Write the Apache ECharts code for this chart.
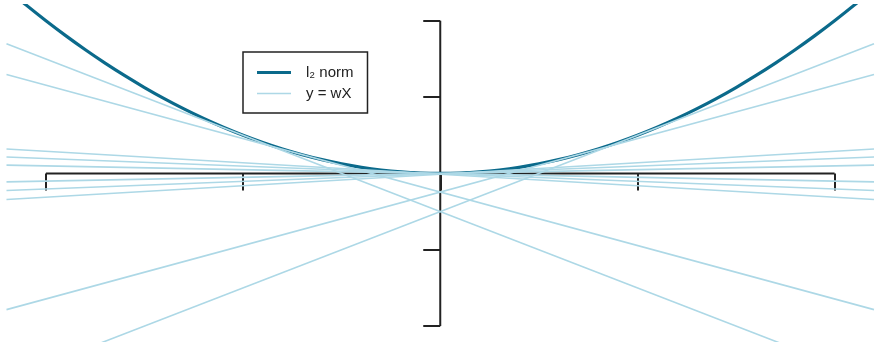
<!DOCTYPE html>
<html>
<head>
<meta charset="utf-8">
<script src="https://cdn.jsdelivr.net/npm/echarts@6/dist/echarts.min.js"></script>
<style>
  html, body { margin: 0; padding: 0; background: #ffffff; }
  #chart { width: 876px; height: 347px; }
</style>
</head>
<body>
<div id="chart"></div>
<script>
// ---- data ----
const xTicks = [-2, -1, 0, 1, 2];
const yTicks = [-2, -1, 0, 1, 2];
const xRange = [-2.2, 2.2];
const yRange = [-2.2, 2.2];

// l2 norm curve samples
const curveX = [-2.2, -2.1, -2.0, -1.9, -1.8, -1.7, -1.6, -1.5, -1.4, -1.3, -1.2, -1.1, -1.0,
                -0.9, -0.8, -0.7, -0.6, -0.5, -0.4, -0.3, -0.2, -0.1, 0,
                0.1, 0.2, 0.3, 0.4, 0.5, 0.6, 0.7, 0.8, 0.9, 1.0,
                1.1, 1.2, 1.3, 1.4, 1.5, 1.6, 1.7, 1.8, 1.9, 2.0, 2.1, 2.2];
const curveY = [2.42, 2.205, 2.0, 1.805, 1.62, 1.445, 1.28, 1.125, 0.98, 0.845, 0.72, 0.605, 0.5,
                0.405, 0.32, 0.245, 0.18, 0.125, 0.08, 0.045, 0.02, 0.005, 0,
                0.005, 0.02, 0.045, 0.08, 0.125, 0.18, 0.245, 0.32, 0.405, 0.5,
                0.605, 0.72, 0.845, 0.98, 1.125, 1.28, 1.445, 1.62, 1.805, 2.0, 2.205, 2.42];

// y = wX lines: slopes and intercepts
const lineSlopes     = [-1, -0.7, -0.15, -0.1, -0.05, 0.05, 0.1, 0.15, 0.7, 1];
const lineIntercepts = [-0.5, -0.245, -0.01125, -0.005, -0.00125, -0.00125, -0.005, -0.01125, -0.245, -0.5];

const legendNames = ['l\u2082 norm', 'y = wX'];

// ---- styles ----
const DARK = '#0b6a8b';
const LIGHT = '#add8e6';
const AXIS = '#222222';

const chart = echarts.init(document.getElementById('chart'), null, { renderer: 'canvas' });

const series = [];
// axis lines (span first to last tick, R style)
series.push({
  type: 'line', name: '_xaxis', silent: true, symbol: 'none', z: 1,
  data: [[xTicks[0], 0], [xTicks[xTicks.length - 1], 0]],
  lineStyle: { color: AXIS, width: 2 }
});
series.push({
  type: 'line', name: '_yaxis', silent: true, symbol: 'none', z: 1,
  data: [[0, yTicks[0]], [0, yTicks[yTicks.length - 1]]],
  lineStyle: { color: AXIS, width: 2 }
});
// l2 norm curve
series.push({
  type: 'line', name: legendNames[0], symbol: 'none', showSymbol: false, smooth: 0.3, z: 2,
  data: curveX.map((x, i) => [x, curveY[i]]),
  lineStyle: { color: DARK, width: 3.2 },
  itemStyle: { color: DARK }
});
// tangent lines
lineSlopes.forEach((w, i) => {
  const b = lineIntercepts[i];
  series.push({
    type: 'line', name: legendNames[1], symbol: 'none', showSymbol: false, z: 3,
    data: [[xRange[0], w * xRange[0] + b], [xRange[1], w * xRange[1] + b]],
    lineStyle: { color: LIGHT, width: 1.6 },
    itemStyle: { color: LIGHT }
  });
});

chart.setOption({
  animation: false,
  backgroundColor: '#ffffff',
  grid: { left: 6.5, top: 5.5, width: 867.5, height: 335.8, containLabel: false },
  xAxis: {
    type: 'value', min: xRange[0], max: xRange[1], position: 'bottom',
    axisLine: { show: false, onZero: true },
    axisTick: { show: true, customValues: xTicks, length: 17, lineStyle: { color: AXIS, width: 2 } },
    axisLabel: { show: false },
    splitLine: { show: false }
  },
  yAxis: {
    type: 'value', min: yRange[0], max: yRange[1], position: 'left',
    axisLine: { show: false, onZero: true },
    axisTick: { show: true, customValues: yTicks, length: 17, lineStyle: { color: AXIS, width: 2 } },
    axisLabel: { show: false },
    splitLine: { show: false }
  },
  legend: {
    orient: 'vertical',
    left: 243, top: 52,
    padding: [13, 14, 12, 14],
    itemWidth: 34, itemHeight: 14, itemGap: 6,
    borderColor: AXIS, borderWidth: 1.5, borderRadius: 0,
    backgroundColor: '#ffffff',
    selectedMode: false,
    itemStyle: { borderWidth: 0 },
    textStyle: { fontFamily: 'Liberation Sans, Arial, sans-serif', fontSize: 15, color: '#222', padding: [0, 0, 0, 10] },
    data: [
      { name: legendNames[0], icon: 'path://M0,0 M34,14 M0,5.5 L34,5.5 L34,8.5 L0,8.5 Z' },
      { name: legendNames[1], icon: 'path://M0,0 M34,14 M0,6.2 L34,6.2 L34,7.8 L0,7.8 Z' }
    ]
  },
  series: series
});
</script>
</body>
</html>
